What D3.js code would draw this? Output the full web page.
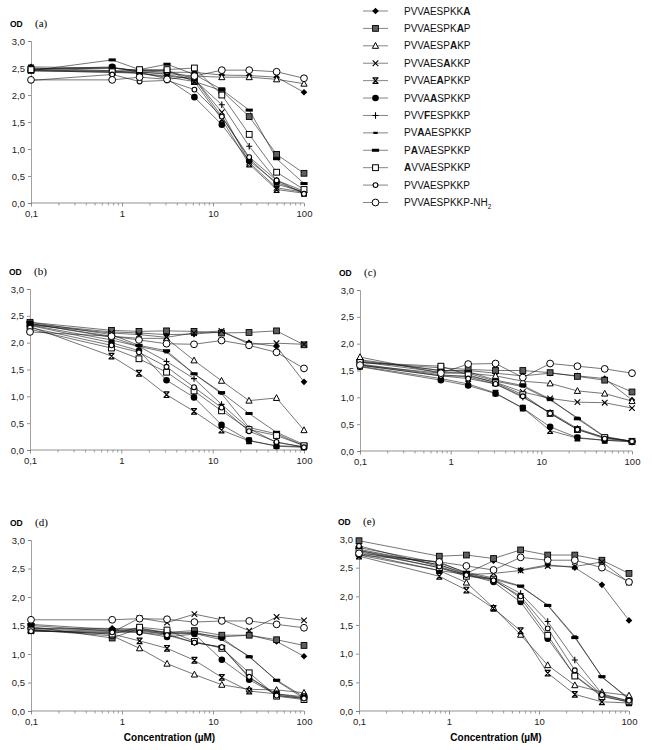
<!DOCTYPE html>
<html>
<head>
<meta charset="utf-8">
<script src="https://cdn.jsdelivr.net/npm/d3@7"></script>
<style>
  body { margin: 0; background: #fff; }
  svg { font-family: "Liberation Sans", Arial, sans-serif; }
</style>
</head>
<body>
<div id="wrapper"></div>
<script>

// concentrations (µM), two-fold dilutions + control plotted at 0.1
const concentrations = [0.1, 0.78, 1.56, 3.125, 6.25, 12.5, 25, 50, 100]

// legend labels: [before, bold letter, after]
const peptides = [
  ["PVVAESPKK", "A", ""],
  ["PVVAESPK", "A", "P"],
  ["PVVAESP", "A", "KP"],
  ["PVVAES", "A", "KKP"],
  ["PVVAE", "A", "PKKP"],
  ["PVVA", "A", "SPKKP"],
  ["PVV", "F", "ESPKKP"],
  ["PV", "A", "AESPKKP"],
  ["P", "A", "VAESPKKP"],
  ["", "A", "VVAESPKKP"],
  ["PVVAESPKKP", "", ""],
  ["PVVAESPKKP-NH", "", ""],
]
const markerTypes = ["diamond", "graySquare", "triangle", "cross", "star", "dot",
                     "plus", "dash", "bigDash", "square", "smallCircle", "circle"]

const yTicks = [0, 0.5, 1, 1.5, 2, 2.5, 3]
const xTicks = [0.1, 1, 10, 100]
const xTickLabels = ["0,1", "1", "10", "100"]

// OD values, one row per peptide (same order as legend)
const panelA = [
  [2.52, 2.50, 2.45, 2.42, 2.42, 2.37, 2.36, 2.33, 2.05],
  [2.48, 2.50, 2.45, 2.45, 2.25, 2.08, 1.60, 0.90, 0.55],
  [2.45, 2.42, 2.42, 2.40, 2.35, 2.33, 2.33, 2.29, 2.21],
  [2.45, 2.42, 2.40, 2.35, 2.30, 1.68, 0.75, 0.28, 0.20],
  [2.50, 2.45, 2.40, 2.33, 2.25, 1.55, 0.72, 0.25, 0.18],
  [2.48, 2.52, 2.42, 2.30, 1.96, 1.45, 0.78, 0.38, 0.20],
  [2.45, 2.45, 2.43, 2.38, 2.28, 1.82, 1.05, 0.42, 0.22],
  [2.47, 2.50, 2.45, 2.45, 2.30, 1.60, 0.82, 0.35, 0.20],
  [2.45, 2.65, 2.47, 2.57, 2.38, 2.10, 1.72, 0.82, 0.36],
  [2.47, 2.43, 2.47, 2.47, 2.50, 2.00, 1.27, 0.57, 0.25],
  [2.27, 2.38, 2.25, 2.27, 2.10, 1.60, 0.85, 0.42, 0.17],
  [2.28, 2.28, 2.33, 2.29, 2.35, 2.46, 2.46, 2.43, 2.31],
]
const panelB = [
  [2.35, 2.20, 2.18, 2.15, 2.16, 2.20, 2.00, 1.93, 1.27],
  [2.38, 2.23, 2.21, 2.22, 2.21, 2.18, 2.19, 2.22, 1.96],
  [2.35, 2.12, 2.08, 2.08, 1.67, 1.29, 0.92, 0.97, 0.37],
  [2.33, 2.18, 2.15, 2.10, 2.18, 2.22, 1.97, 1.99, 1.97],
  [2.30, 1.75, 1.43, 1.03, 0.72, 0.37, 0.17, 0.08, 0.06],
  [2.32, 2.00, 1.85, 1.30, 0.98, 0.47, 0.18, 0.07, 0.05],
  [2.33, 2.05, 1.93, 1.65, 1.33, 0.85, 0.40, 0.14, 0.06],
  [2.36, 2.10, 1.93, 1.82, 1.42, 1.05, 0.42, 0.30, 0.08],
  [2.38, 2.15, 1.95, 1.85, 1.42, 1.07, 0.68, 0.33, 0.10],
  [2.25, 1.90, 1.70, 1.45, 1.10, 0.73, 0.38, 0.27, 0.08],
  [2.28, 1.95, 1.82, 1.55, 1.17, 0.79, 0.35, 0.15, 0.05],
  [2.20, 2.12, 2.05, 1.98, 1.97, 2.04, 1.95, 1.82, 1.52],
]
const panelC = [
  [1.70, 1.50, 1.50, 1.45, 1.40, 1.45, 1.40, 1.35, 0.95],
  [1.65, 1.55, 1.52, 1.50, 1.50, 1.46, 1.39, 1.32, 1.10],
  [1.75, 1.45, 1.45, 1.40, 1.30, 1.26, 1.12, 1.07, 0.93],
  [1.60, 1.40, 1.40, 1.28, 1.10, 0.98, 0.91, 0.90, 0.80],
  [1.58, 1.35, 1.25, 1.08, 0.80, 0.38, 0.24, 0.20, 0.18],
  [1.57, 1.32, 1.22, 1.07, 0.80, 0.45, 0.25, 0.20, 0.17],
  [1.62, 1.42, 1.38, 1.25, 1.00, 0.72, 0.42, 0.25, 0.18],
  [1.66, 1.47, 1.45, 1.30, 1.20, 0.95, 0.62, 0.27, 0.18],
  [1.68, 1.50, 1.48, 1.32, 1.22, 0.97, 0.60, 0.26, 0.18],
  [1.65, 1.58, 1.42, 1.27, 1.05, 0.70, 0.40, 0.25, 0.18],
  [1.60, 1.40, 1.35, 1.25, 1.02, 0.70, 0.40, 0.23, 0.18],
  [1.60, 1.45, 1.62, 1.63, 1.37, 1.63, 1.58, 1.53, 1.45],
]
const panelD = [
  [1.45, 1.45, 1.42, 1.35, 1.36, 1.30, 1.33, 1.22, 0.96],
  [1.48, 1.28, 1.45, 1.38, 1.41, 1.33, 1.33, 1.25, 1.15],
  [1.42, 1.32, 1.10, 0.83, 0.64, 0.46, 0.38, 0.37, 0.32],
  [1.40, 1.38, 1.63, 1.55, 1.70, 1.60, 1.41, 1.65, 1.59],
  [1.42, 1.35, 1.23, 1.10, 0.89, 0.59, 0.35, 0.30, 0.25],
  [1.45, 1.42, 1.38, 1.30, 1.35, 0.90, 0.55, 0.28, 0.22],
  [1.43, 1.40, 1.40, 1.35, 1.20, 1.12, 0.58, 0.30, 0.23],
  [1.50, 1.40, 1.42, 1.38, 1.36, 1.25, 0.96, 0.53, 0.22],
  [1.52, 1.43, 1.45, 1.36, 1.38, 1.28, 0.95, 0.54, 0.25],
  [1.42, 1.35, 1.47, 1.42, 1.22, 1.10, 0.67, 0.26, 0.20],
  [1.40, 1.38, 1.38, 1.33, 1.20, 1.12, 0.60, 0.27, 0.22],
  [1.60, 1.60, 1.62, 1.61, 1.56, 1.58, 1.58, 1.52, 1.46],
]
const panelE = [
  [2.72, 2.60, 2.40, 2.62, 2.46, 2.55, 2.50, 2.20, 1.58],
  [2.97, 2.70, 2.72, 2.66, 2.81, 2.72, 2.72, 2.63, 2.40],
  [2.75, 2.45, 2.24, 1.80, 1.33, 0.80, 0.45, 0.33, 0.27],
  [2.80, 2.50, 2.38, 2.40, 2.45, 2.53, 2.52, 2.60, 2.24],
  [2.70, 2.35, 2.11, 1.79, 1.40, 0.66, 0.29, 0.16, 0.14],
  [2.72, 2.45, 2.38, 2.25, 1.90, 1.26, 0.62, 0.27, 0.15],
  [2.80, 2.55, 2.38, 2.30, 2.05, 1.56, 0.89, 0.30, 0.17],
  [2.82, 2.55, 2.40, 2.30, 2.17, 1.85, 1.30, 0.59, 0.22],
  [2.85, 2.58, 2.42, 2.32, 2.18, 1.84, 1.28, 0.60, 0.20],
  [2.78, 2.50, 2.35, 2.30, 1.97, 1.32, 0.61, 0.25, 0.16],
  [2.88, 2.52, 2.37, 2.28, 2.00, 1.44, 0.71, 0.28, 0.18],
  [2.75, 2.60, 2.53, 2.46, 2.68, 2.63, 2.63, 2.50, 2.25],
]

function drawMarker(g, type) {
  if (type == "diamond") {
    g.append("path").attr("d", "M0,-3.3L3.3,0L0,3.3L-3.3,0Z").attr("fill", "#000")
  } else if (type == "graySquare") {
    g.append("rect").attr("x", -2.9).attr("y", -2.9).attr("width", 5.8).attr("height", 5.8)
      .attr("fill", "#5e5e5e").attr("stroke", "#000").attr("stroke-width", 0.9)
  } else if (type == "triangle") {
    g.append("path").attr("d", "M0,-3.3L3.1,2.5L-3.1,2.5Z")
      .attr("fill", "#fff").attr("stroke", "#000").attr("stroke-width", 1)
  } else if (type == "cross") {
    g.append("path").attr("d", "M-2.8,-2.8L2.8,2.8M-2.8,2.8L2.8,-2.8")
      .attr("stroke", "#000").attr("stroke-width", 1.1)
  } else if (type == "star") {
    g.append("path").attr("d", "M-2.6,-2.8L2.6,2.8M-2.6,2.8L2.6,-2.8M-3,-2.8H3M-3,2.8H3")
      .attr("stroke", "#000").attr("stroke-width", 1.2)
  } else if (type == "dot") {
    g.append("circle").attr("r", 3.3).attr("fill", "#000")
  } else if (type == "plus") {
    g.append("path").attr("d", "M-3,0H3M0,-3.2V3.2").attr("stroke", "#000").attr("stroke-width", 1.1)
  } else if (type == "dash") {
    g.append("rect").attr("x", -2.2).attr("y", -1.1).attr("width", 4.4).attr("height", 2.2).attr("fill", "#000")
  } else if (type == "bigDash") {
    g.append("rect").attr("x", -3.6).attr("y", -1.5).attr("width", 7.2).attr("height", 3).attr("fill", "#000")
  } else if (type == "square") {
    g.append("rect").attr("x", -2.9).attr("y", -2.9).attr("width", 5.8).attr("height", 5.8)
      .attr("fill", "#fff").attr("stroke", "#000").attr("stroke-width", 1)
  } else if (type == "smallCircle") {
    g.append("circle").attr("r", 2.4).attr("fill", "#fff").attr("stroke", "#000").attr("stroke-width", 1.1)
  } else {
    g.append("circle").attr("r", 3.4).attr("fill", "#fff").attr("stroke", "#000").attr("stroke-width", 1)
  }
}

function drawChart() {

  // 1. Panels
  const panels = [
    {tag: "(a)", values: panelA, left: 31, right: 304, top: 41, bottom: 203, xTitle: false},
    {tag: "(b)", values: panelB, left: 30, right: 304, top: 289, bottom: 450, xTitle: false},
    {tag: "(c)", values: panelC, left: 360, right: 632, top: 290, bottom: 451, xTitle: false},
    {tag: "(d)", values: panelD, left: 31, right: 304, top: 540, bottom: 711, xTitle: true},
    {tag: "(e)", values: panelE, left: 359, right: 629, top: 539, bottom: 711, xTitle: true},
  ]

  // 2. Draw canvas
  const svg = d3.select("#wrapper")
    .append("svg")
      .attr("width", 652)
      .attr("height", 750)

  svg.append("rect").attr("width", 652).attr("height", 750).attr("fill", "#fff")

  panels.forEach(p => {
    const xScale = d3.scaleLog().domain([0.1, 100]).range([p.left, p.right])
    const yScale = d3.scaleLinear().domain([0, 3]).range([p.bottom, p.top])

    const g = svg.append("g")

    // y axis
    const yAxis = d3.axisLeft(yScale)
      .tickValues(yTicks)
      .tickSize(3)
      .tickPadding(3)
      .tickFormat(d => d3.format(".1f")(d).replace(".", ","))
    const ya = g.append("g")
      .attr("transform", `translate(${p.left},0)`)
      .call(yAxis)
    ya.select(".domain").attr("stroke", "#8a8a8a").attr("stroke-width", 0.8)
    ya.selectAll(".tick line").attr("stroke", "#777").attr("stroke-width", 0.8)
    ya.selectAll(".tick text").attr("font-size", 9.5).attr("fill", "#222")
      .attr("font-family", "Liberation Sans, Arial, sans-serif")

    // x axis with minor log ticks
    const minor = []
    d3.range(-1, 2).forEach(e => d3.range(2, 10).forEach(m => minor.push(m * Math.pow(10, e))))
    const xAxisMinor = d3.axisBottom(xScale).tickValues(minor).tickSize(2.5).tickFormat("")
    const xm = g.append("g").attr("transform", `translate(0,${p.bottom})`).call(xAxisMinor)
    xm.select(".domain").remove()
    xm.selectAll(".tick line").attr("stroke", "#777").attr("stroke-width", 0.7)

    const xAxis = d3.axisBottom(xScale)
      .tickValues(xTicks)
      .tickSize(3.5)
      .tickPadding(4)
      .tickFormat((d, i) => xTickLabels[i])
    const xa = g.append("g").attr("transform", `translate(0,${p.bottom})`).call(xAxis)
    xa.select(".domain").attr("stroke", "#777").attr("stroke-width", 0.8)
      .attr("d", `M${p.left},0H${p.right}`)
    xa.selectAll(".tick line").attr("stroke", "#777").attr("stroke-width", 0.8)
    xa.selectAll(".tick text").attr("font-size", 9.5).attr("fill", "#222")
      .attr("font-family", "Liberation Sans, Arial, sans-serif")

    // titles
    g.append("text")
      .attr("x", p.left - 21).attr("y", p.top - 14)
      .attr("font-size", 8.5).attr("font-weight", "bold").text("OD")
    g.append("text")
      .attr("x", p.left + 4).attr("y", p.top - 14)
      .attr("font-family", "Liberation Serif, Times New Roman, serif")
      .attr("font-size", 11).text(p.tag)
    if (p.xTitle) {
      g.append("text")
        .attr("x", (p.left + p.right) / 2 + 2).attr("y", p.bottom + 30)
        .attr("text-anchor", "middle")
        .attr("font-size", 10).attr("font-weight", "bold").text("Concentration (µM)")
    }

    // lines
    const line = d3.line()
      .x((d, i) => xScale(concentrations[i]))
      .y(d => yScale(d))
    g.selectAll(".series")
      .data(p.values)
      .join("path")
        .attr("class", "series")
        .attr("d", line)
        .attr("fill", "none")
        .attr("stroke", "#1a1a1a")
        .attr("stroke-width", 0.6)

    // markers
    p.values.forEach((vals, si) => {
      vals.forEach((v, i) => {
        const m = g.append("g")
          .attr("transform", `translate(${xScale(concentrations[i])},${yScale(v)})`)
        drawMarker(m, markerTypes[si])
      })
    })
  })

  // 3. Legend
  const legendRow = d3.scaleLinear().domain([0, 11]).range([11, 202.5])
  const legend = svg.append("g")
  peptides.forEach((pep, i) => {
    const y = legendRow(i)
    legend.append("line")
      .attr("x1", 363).attr("x2", 388).attr("y1", y).attr("y2", y)
      .attr("stroke", "#333").attr("stroke-width", 0.6)
    const m = legend.append("g").attr("transform", `translate(375.5,${y})`)
    drawMarker(m, markerTypes[i])
    const t = legend.append("text")
      .attr("x", 404).attr("y", y + 3.6)
      .attr("font-size", 10).attr("fill", "#111")
    t.append("tspan").text(pep[0])
    t.append("tspan").attr("font-weight", "bold").text(pep[1])
    t.append("tspan").text(pep[2])
    if (i == 11) {
      t.append("tspan").attr("font-size", 6.5).attr("dy", 2.5).text("2")
    }
  })
}

drawChart()
</script>
</body>
</html>
